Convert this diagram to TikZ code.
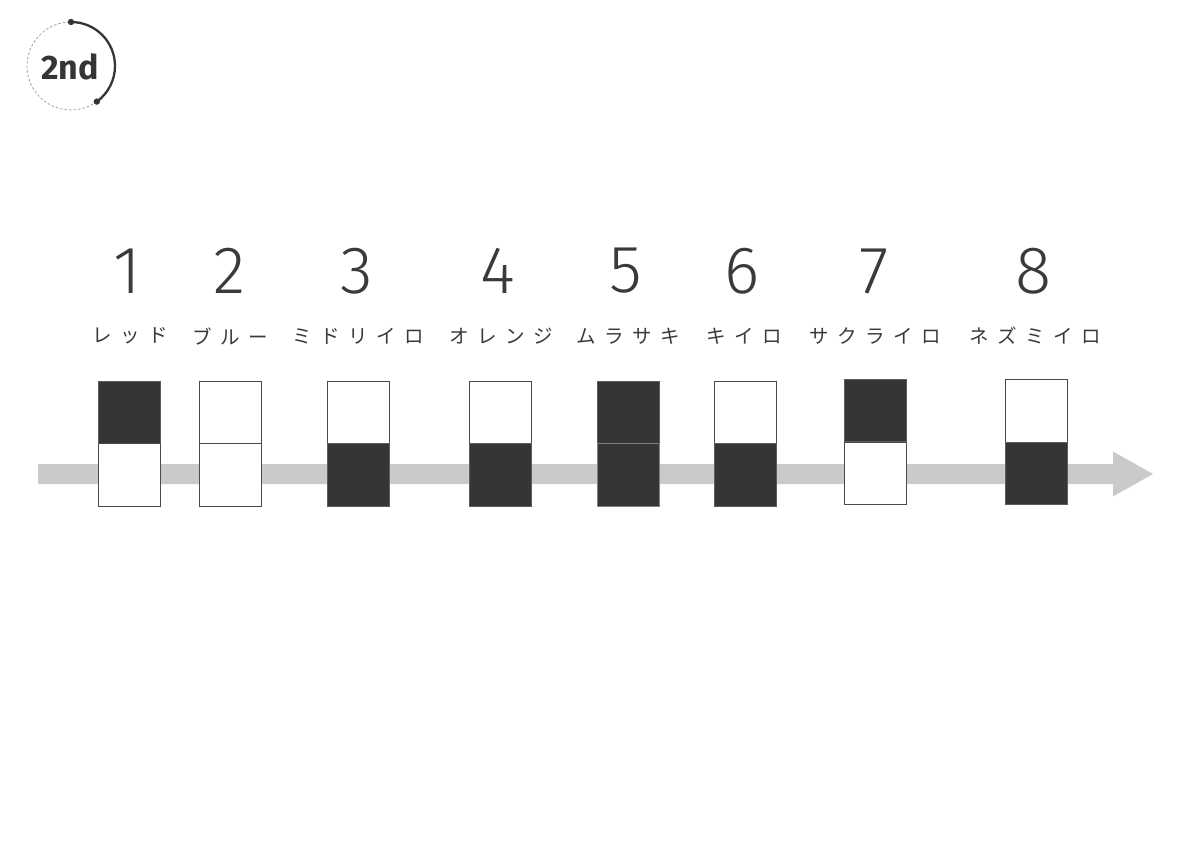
\documentclass[tikz,border=0pt]{standalone}
\usepackage{fontspec}
\newfontfamily\jpfont{Noto Sans CJK JP}
\newfontfamily\numfont{Fira Sans Light}
\newfontfamily\badgefont{Fira Sans}
\newcommand{\ks}{\hspace{8.5pt}}
\definecolor{ink}{HTML}{373533}
\definecolor{txt}{HTML}{3A3A3A}
\definecolor{bar}{HTML}{C9CAC9}
\definecolor{edge}{HTML}{4A4A4A}
\tikzset{
  cell/.style={minimum width=62pt, minimum height=62.5pt, inner sep=0pt, line width=0.9pt},
  darkcell/.style={cell, fill=ink, draw=ink!80!white},
  whitecell/.style={cell, fill=white, draw=edge},
  num/.style={font=\numfont\fontsize{67}{67}\selectfont, text=txt, inner sep=0pt},
  lab/.style={font=\jpfont\fontsize{19.5}{19.5}\selectfont, text=txt, inner sep=0pt},
}
\begin{document}
\begin{tikzpicture}[x=1pt,y=-1pt]
\useasboundingbox (0,0) rectangle (1191,842);
% badge
\coordinate (bc) at (71,66);
\draw[gray!75, line width=0.8pt, dash pattern=on 2.5pt off 2pt] ([shift={(54:44)}]bc) arc[start angle=54, end angle=270, radius=44];
\draw[ink, line width=2.3pt] ([shift={(-90:44)}]bc) arc[start angle=-90, end angle=54, radius=44];
\fill[ink] ([shift={(-90:44)}]bc) circle[radius=3.2pt];
\fill[ink] ([shift={(54:44)}]bc) circle[radius=3.2pt];
\node[font=\badgefont\bfseries\fontsize{34}{34}\selectfont, text=ink] (badge) at (70,67) {2nd};
% arrow
\coordinate (a0) at (38,474);
\coordinate (a1) at (1113,474);
\coordinate (tip) at (1153,474);
\fill[bar] (38,464) -- (1113,464) -- (1113,451.5) -- (tip) -- (1113,496.5) -- (1113,484) -- (38,484) -- cycle;
% columns
\node[darkcell]  (t1) at (129,412.5) {};
\node[whitecell] (b1) at (129,475) {};
\node[whitecell] (t2) at (230.5,412.5) {};
\node[whitecell] (b2) at (230.5,475) {};
\node[whitecell] (t3) at (358.5,412.5) {};
\node[darkcell]  (b3) at (358.5,475) {};
\node[whitecell] (t4) at (500,412.5) {};
\node[darkcell]  (b4) at (500,475) {};
\node[darkcell]  (t5) at (628,412.5) {};
\node[darkcell, draw=gray]  (b5) at (628,475) {};
\node[whitecell] (t6) at (745,412.5) {};
\node[darkcell]  (b6) at (745,475) {};
\node[darkcell]  (t7) at (875.5,410.5) {};
\node[whitecell] (b7) at (875.5,473.5) {};
\node[whitecell] (t8) at (1036.5,411) {};
\node[darkcell]  (b8) at (1036.5,473.5) {};
% numbers
\node[num] (n1) at (127,271) {1};
\node[num] (n2) at (230,271) {2};
\node[num] (n3) at (357,271) {3};
\node[num] (n4) at (498,271) {4};
\node[num] (n5) at (626,271) {5};
\node[num] (n6) at (742,271) {6};
\node[num] (n7) at (874,271) {7};
\node[num] (n8) at (1034,271) {8};
% labels
\node[lab] (l1) at (130,336) {レ\ks ッ\ks ド};
\node[lab] (l2) at (230,336) {ブ\ks ル\ks ー};
\node[lab] (l3) at (358,336) {ミ\ks ド\ks リ\ks イ\ks ロ};
\node[lab] (l4) at (501,336) {オ\ks レ\ks ン\ks ジ};
\node[lab] (l5) at (628,336) {ム\ks ラ\ks サ\ks キ};
\node[lab] (l6) at (744,336) {キ\ks イ\ks ロ};
\node[lab] (l7) at (875,336) {サ\ks ク\ks ラ\ks イ\ks ロ};
\node[lab] (l8) at (1035,336) {ネ\ks ズ\ks ミ\ks イ\ks ロ};
\end{tikzpicture}
\end{document}
